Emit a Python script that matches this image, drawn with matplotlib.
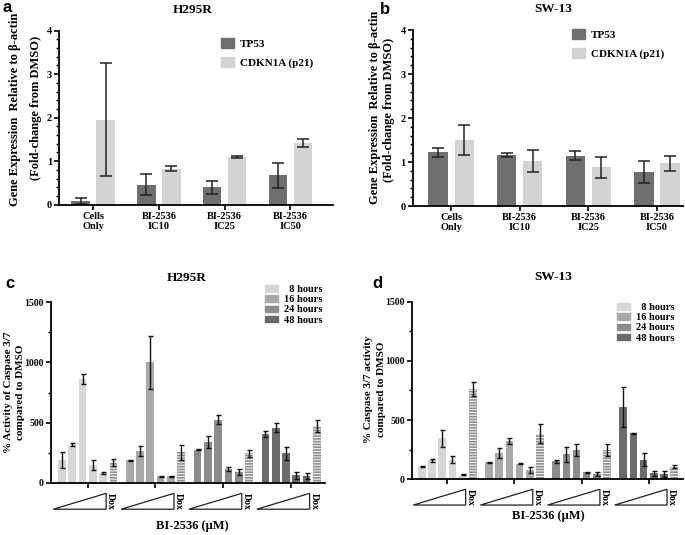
import numpy as np
import matplotlib
matplotlib.use('Agg')
import matplotlib.pyplot as plt
from matplotlib.patches import Patch, Polygon
from matplotlib.ticker import AutoMinorLocator, MultipleLocator
import matplotlib.transforms as mtransforms

plt.rcParams['font.family'] = ['Liberation Serif', 'DejaVu Serif']
plt.rcParams['font.weight'] = 'bold'
plt.rcParams['hatch.linewidth'] = 0.8

# ---- data: panels a / b (gene expression) ----
gene_groups = ['Cells\nOnly', 'BI-2536\nIC10', 'BI-2536\nIC25', 'BI-2536\nIC50']
genes = ['TP53', 'CDKN1A (p21)']

h295r_tp53 = [0.08, 0.46, 0.40, 0.68]
h295r_tp53_err = [0.07, 0.24, 0.15, 0.29]
h295r_p21 = [1.95, 0.83, 1.10, 1.41]
h295r_p21_err = [1.30, 0.05, 0.03, 0.09]

sw13_tp53 = [1.22, 1.16, 1.14, 0.77]
sw13_tp53_err = [0.10, 0.05, 0.10, 0.25]
sw13_p21 = [1.50, 1.03, 0.88, 0.97]
sw13_p21_err = [0.34, 0.25, 0.24, 0.17]

# ---- data: panels c / d (caspase 3/7), 5 doses + Dox per time point ----
times = ['  8 hours', '16 hours', '24 hours', '48 hours']

h295r_casp = [
    [189, 314, 862, 145, 81, 167],
    [186, 264, 1000, 53, 53, 252],
    [276, 342, 524, 112, 89, 243],
    [404, 458, 243, 62, 57, 468],
]
h295r_casp_err = [
    [68, 12, 40, 40, 8, 30],
    [6, 40, 218, 5, 5, 62],
    [5, 50, 40, 15, 22, 28],
    [25, 40, 55, 28, 25, 50],
]

sw13_casp = [
    [108, 159, 345, 165, 38, 761],
    [142, 222, 321, 131, 80, 384],
    [151, 210, 250, 60, 43, 250],
    [612, 390, 165, 51, 42, 108],
]
sw13_casp_err = [
    [8, 12, 75, 30, 5, 57],
    [5, 40, 25, 5, 25, 80],
    [10, 60, 50, 5, 15, 50],
    [170, 5, 55, 20, 25, 15],
]

tp53_color = '#6f6f6f'
p21_color = '#d3d3d3'
time_colors = ['#d6d6d6', '#a9a9a9', '#8c8c8c', '#6b6b6b']
dox_color = '#8f8f8f'

fig = plt.figure(figsize=(6.85, 5.35), dpi=100)


def px(x, y):
    return x / 685, 1 - y / 535


def style_axis(ax, labelsize=7.5):
    for s in ['top', 'right']:
        ax.spines[s].set_visible(False)
    for s in ['left', 'bottom']:
        ax.spines[s].set_linewidth(1.3)
    ax.tick_params(axis='both', which='major', length=3.5, width=1.2,
                   labelsize=labelsize, pad=1.5)
    ax.tick_params(axis='y', which='minor', length=2, width=1.0)
    ax.tick_params(axis='x', which='minor', bottom=False)


def gene_panel(rect, tp53, tp53_err, p21, p21_err, xlim, legend_xy):
    ax = fig.add_axes(rect)
    x = np.arange(len(gene_groups))
    w = 0.28
    ax.bar(x - 0.19, tp53, w, color=tp53_color, label=genes[0])
    ax.bar(x + 0.19, p21, w, color=p21_color, label=genes[1])
    ax.errorbar(x - 0.19, tp53, yerr=tp53_err, fmt='none', ecolor='#222222',
                elinewidth=1.1, capsize=4, capthick=1.1)
    ax.errorbar(x + 0.19, p21, yerr=p21_err, fmt='none', ecolor='#222222',
                elinewidth=1.1, capsize=4, capthick=1.1)
    ax.set_ylim(0, 4)
    ax.set_xlim(*xlim)
    ax.yaxis.set_major_locator(MultipleLocator(1))
    ax.yaxis.set_minor_locator(AutoMinorLocator(5))
    ax.set_xticks(x)
    ax.set_xticklabels(gene_groups, fontsize=9, linespacing=1.15)
    style_axis(ax)
    handles = [Patch(color=tp53_color, label=genes[0]), Patch(color=p21_color, label=genes[1])]
    ax.legend(handles=handles, loc='upper left', bbox_to_anchor=px(*legend_xy),
              bbox_transform=fig.transFigure, frameon=False, fontsize=8,
              borderpad=0, handlelength=1.2, handleheight=1.0,
              handletextpad=0.5, labelspacing=0.75, borderaxespad=0)
    return ax


def caspase_panel(rect, vals, errs, xlim, legend_xy, tri_y):
    ax = fig.add_axes(rect)
    gap = 6.6
    for g in range(4):
        xs = g * gap + np.arange(6)
        v = vals[g]
        ax.bar(xs[:5], v[:5], 0.75, color=time_colors[g], linewidth=0)
        ax.bar(xs[5], v[5], 0.75, color=dox_color, edgecolor='#f2f2f2',
               hatch='------', linewidth=0)
        ax.errorbar(xs, v, yerr=errs[g], fmt='none', ecolor='#111111',
                    elinewidth=1.0, capsize=1.8, capthick=1.0)
    ax.set_ylim(0, 1500)
    ax.set_xlim(*xlim)
    ax.yaxis.set_major_locator(MultipleLocator(500))
    ax.yaxis.set_minor_locator(AutoMinorLocator(2))
    ax.set_xticks([g * gap + 2.5 for g in range(4)])
    ax.set_xticklabels([])
    style_axis(ax, labelsize=7)
    handles = [Patch(color=c, label=t) for c, t in zip(time_colors, times)]
    ax.legend(handles=handles, loc='upper left', bbox_to_anchor=px(*legend_xy),
              bbox_transform=fig.transFigure, frameon=False, fontsize=7.5,
              borderpad=0, handlelength=1.25, handleheight=0.6,
              handletextpad=0.6, labelspacing=0.12, borderaxespad=0)
    # dose wedges and Dox labels below axis
    trans = mtransforms.blended_transform_factory(ax.transData, ax.transAxes)
    y_top, y_bot = tri_y
    for g in range(4):
        x0 = g * gap - 0.85
        x1 = g * gap + 4.3
        tri = Polygon([[x0, y_bot], [x1, y_top], [x1, y_bot]], closed=True,
                      facecolor='white', edgecolor='#222222', linewidth=0.9,
                      transform=trans, clip_on=False)
        ax.add_patch(tri)
        ax.text(g * gap + 4.75, (y_top + y_bot) / 2, 'Dox', transform=trans,
                rotation=-90, ha='center', va='center', fontsize=7, fontweight='bold')
    return ax


# panel a
ax_a = gene_panel([59 / 685, 1 - 204.7 / 535, 274 / 685, 174 / 535],
                  h295r_tp53, h295r_tp53_err, h295r_p21, h295r_p21_err,
                  (-0.52, 3.65), (221, 38))
# panel b
ax_b = gene_panel([412.7 / 685, 1 - 206 / 535, 270.3 / 685, 176 / 535],
                  sw13_tp53, sw13_tp53_err, sw13_p21, sw13_p21_err,
                  (-0.56, 3.38), (572, 29))
# panel c
ax_c = caspase_panel([50.7 / 685, 1 - 482.7 / 535, 274.3 / 685, 180.4 / 535],
                     h295r_casp, h295r_casp_err, (-1.1, 25.6), (265, 285),
                     (-0.059, -0.147))
# panel d
ax_d = caspase_panel([411.7 / 685, 1 - 479.3 / 535, 271.3 / 685, 177.6 / 535],
                     sw13_casp, sw13_casp_err, (-1.0, 25.67), (617, 303),
                     (-0.056, -0.145))

# titles
fig.text(*px(193, 10), 'H295R', ha='center', va='center', fontsize=9.5)
fig.text(*px(553, 9), 'SW-13', ha='center', va='center', fontsize=9.5)
fig.text(*px(187, 278), 'H295R', ha='center', va='center', fontsize=9.5)
fig.text(*px(553, 277), 'SW-13', ha='center', va='center', fontsize=9.5)

# y labels
fig.text(*px(15.5, 109), 'Gene Expression  Relative to \u03b2-actin', rotation=90,
         ha='center', va='center', fontsize=9)
fig.text(*px(36.5, 108), '(Fold-change from DMSO)', rotation=90,
         ha='center', va='center', fontsize=9)
fig.text(*px(375, 107), 'Gene Expression  Relative to \u03b2-actin', rotation=90,
         ha='center', va='center', fontsize=9)
fig.text(*px(389, 110), '(Fold-change from DMSO)', rotation=90,
         ha='center', va='center', fontsize=9)
fig.text(*px(8.5, 392), '% Activity of Caspase 3/7', rotation=90,
         ha='center', va='center', fontsize=8)
fig.text(*px(20.5, 392), 'compared to DMSO', rotation=90,
         ha='center', va='center', fontsize=8)
fig.text(*px(368.5, 389), '% Caspase 3/7 activity', rotation=90,
         ha='center', va='center', fontsize=8)
fig.text(*px(381.5, 389), 'compared to DMSO', rotation=90,
         ha='center', va='center', fontsize=8)

# x labels for caspase panels
fig.text(*px(192, 526.5), 'BI-2536 (\u03bcM)', ha='center', va='center', fontsize=9)
fig.text(*px(548, 516.5), 'BI-2536 (\u03bcM)', ha='center', va='center', fontsize=9)

# panel letters
for lab, (x, y) in zip('abcd', [(7, 8), (385, 10), (10, 284), (377, 283)]):
    fig.text(*px(x, y), lab, ha='center', va='center', fontsize=12,
             fontweight='bold', family='Liberation Sans')

fig.savefig('out.png', dpi=100)
